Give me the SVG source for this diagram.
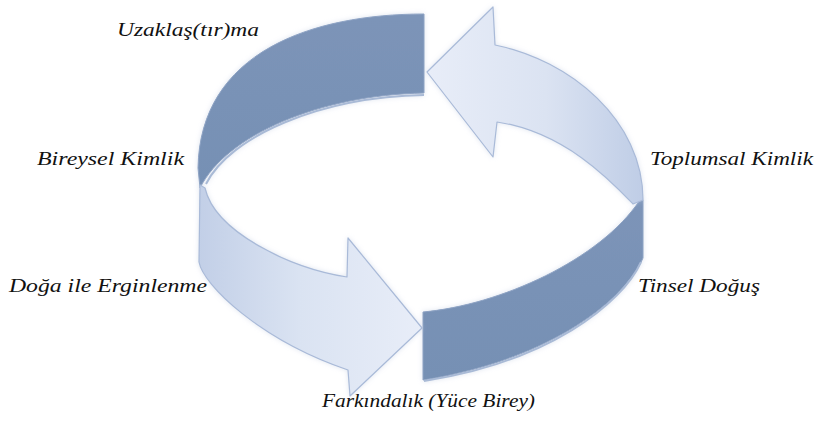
<svg xmlns="http://www.w3.org/2000/svg" width="820" height="430" viewBox="0 0 820 430">
  <defs>
    <linearGradient id="gLeft" x1="0" y1="0" x2="1" y2="0">
      <stop offset="0" stop-color="#c2cfe7"/>
      <stop offset="0.45" stop-color="#dae3f2"/>
      <stop offset="1" stop-color="#e8edf8"/>
    </linearGradient>
    <linearGradient id="gRight" x1="0" y1="0" x2="1" y2="0">
      <stop offset="0" stop-color="#e8edf8"/>
      <stop offset="0.55" stop-color="#dbe3f2"/>
      <stop offset="1" stop-color="#bfcde6"/>
    </linearGradient>
    <linearGradient id="gDark" x1="0" y1="0" x2="0" y2="1">
      <stop offset="0" stop-color="#7c94b8"/>
      <stop offset="1" stop-color="#7690b4"/>
    </linearGradient>
    <filter id="halo" x="-10%" y="-10%" width="120%" height="120%">
      <feGaussianBlur in="SourceAlpha" stdDeviation="2.5" result="b"/>
      <feFlood flood-color="#b7c4dc" flood-opacity="0.45"/>
      <feComposite in2="b" operator="in" result="s"/>
      <feMerge><feMergeNode in="s"/><feMergeNode in="SourceGraphic"/></feMerge>
    </filter>
  </defs>
  <style>
    .dark { fill: url(#gDark); stroke: #8ea3c4; stroke-width: 1; }
    .light { stroke: #a9bad8; stroke-width: 1.2; stroke-linejoin: round; }
    .bevel { fill: none; stroke: #a9bad6; stroke-width: 2; }
  </style>
  <rect width="820" height="430" fill="#ffffff"/>

  <g id="band-back" filter="url(#halo)">
    <path class="dark" d="M424,14 C312,14 200,52 198,168 L200,188 C226,135 320,95 424,93 Z"/>
    <path class="bevel" d="M206,184 C230,136 320,97 424,95"/>
  </g>

  <g id="band-front" filter="url(#halo)">
    <path class="dark" d="M423,312 C500,305 600,260 640,200 L643,200 L643,258 C625,300 550,360 423,380 Z"/>
    <path class="bevel" d="M641,262 C622,304 548,362 424,381"/>
  </g>

  <g id="arrow-left" filter="url(#halo)">
    <path class="light" fill="url(#gLeft)" d="M200,185 L199,262 C203,285 260,340 348,370 L350,396 L422,328 L348,238 L347,277 C290,268 215,232 205,188 Z"/>
  </g>

  <g id="arrow-right" filter="url(#halo)">
    <path class="light" fill="url(#gRight)" d="M427,72 L493,7 L495,45 C570,60 643,120 643,200 L633,204 C612,182 565,132 497,122 L493,157 Z"/>
  </g>

  <g id="labels" fill="#111111">
    <text x="117" y="36" font-family="Liberation Serif" font-style="italic" font-size="19" textLength="142" lengthAdjust="spacingAndGlyphs">Uzaklaş(tır)ma</text>
    <text x="37" y="165" font-family="Liberation Serif" font-style="italic" font-size="19" textLength="147" lengthAdjust="spacingAndGlyphs">Bireysel Kimlik</text>
    <text x="650" y="165" font-family="Liberation Serif" font-style="italic" font-size="19" textLength="163" lengthAdjust="spacingAndGlyphs">Toplumsal Kimlik</text>
    <text x="9" y="292" font-family="Liberation Serif" font-style="italic" font-size="19" textLength="198" lengthAdjust="spacingAndGlyphs">Doğa ile Erginlenme</text>
    <text x="638" y="292" font-family="Liberation Serif" font-style="italic" font-size="19" textLength="122" lengthAdjust="spacingAndGlyphs">Tinsel Doğuş</text>
    <text x="322" y="407" font-family="Liberation Serif" font-style="italic" font-size="19" textLength="213" lengthAdjust="spacingAndGlyphs">Farkındalık (Yüce Birey)</text>
  </g>
</svg>
